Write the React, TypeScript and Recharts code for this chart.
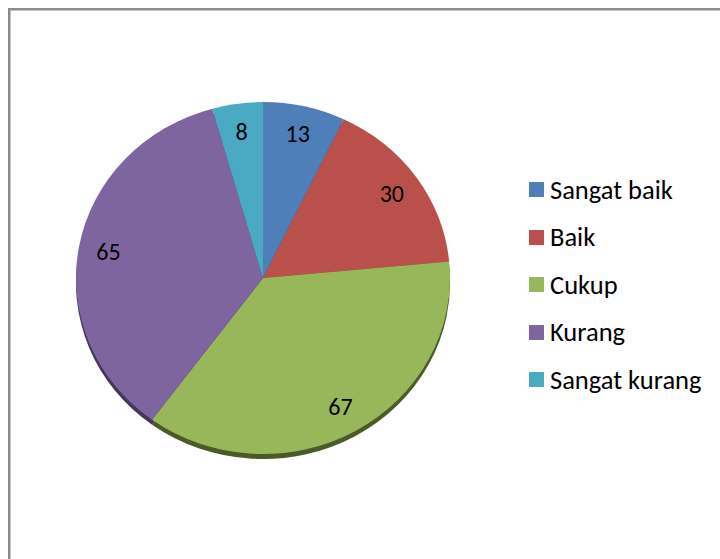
import React from "react";
import { PieChart, Pie, Cell, Legend } from "recharts";

const categories = ["Sangat baik", "Baik", "Cukup", "Kurang", "Sangat kurang"];
const values = [13, 30, 67, 65, 8];
const colors = ["#4F7FB9", "#BA504C", "#98B65A", "#7F65A0", "#4BAAC3"];
const shadowColors = ["#2c4a6e", "#6e2e2c", "#4a5a28", "#45365a", "#2a6270"];

const data = categories.map((name, i) => ({ name, value: values[i] }));

const SY = 0.941;
const CX = 263;
const CY = 278;
const R = 187;
const FONT = "Carlito, 'Open Sans', sans-serif";

const renderLabel = (props: any) => {
  const { cx, cy, midAngle, outerRadius, value } = props;
  const RAD = Math.PI / 180;
  const r = outerRadius * 0.84;
  const x = cx + r * Math.cos(-midAngle * RAD);
  const y = cy + r * Math.sin(-midAngle * RAD);
  return (
    <g transform={`translate(${x},${y}) scale(1,${1 / SY})`}>
      <text
        x={0}
        y={0}
        textAnchor="middle"
        dominantBaseline="central"
        fill="#000"
        fontSize={24}
        fontFamily={FONT}
      >
        {value}
      </text>
    </g>
  );
};

const renderLegend = () => (
  <div style={{ fontFamily: FONT, fontSize: 26.5, color: "#000" }}>
    {categories.map((c, i) => (
      <div
        key={c}
        style={{ display: "flex", alignItems: "center", height: 47.5 }}
      >
        <div
          style={{
            width: 15,
            height: 15,
            background: colors[i],
            marginRight: 6,
          }}
        />
        <span style={{ whiteSpace: "nowrap" }}>{c}</span>
      </div>
    ))}
  </div>
);

export default function App() {
  return (
    <div
      style={{
        position: "fixed",
        left: 0,
        top: 0,
        width: 720,
        height: 559,
        overflow: "hidden",
        background: "#fff",
      }}
    >
      <div
        style={{
          position: "absolute",
          left: 8,
          top: 8,
          width: 760,
          height: 600,
          borderLeft: "2px solid #8c8c8c",
          borderTop: "2px solid #8c8c8c",
        }}
      >
        <div
          style={{
            position: "absolute",
            left: 0,
            top: 0,
            width: 760,
            height: 600,
            borderLeft: "1px solid #c4c4c4",
            borderTop: "1px solid #c4c4c4",
          }}
        />
      </div>
      <div
        style={{
          position: "absolute",
          left: 0,
          top: 0,
          transform: `scaleY(${SY})`,
          transformOrigin: `${CX}px ${CY}px`,
        }}
      >
        <PieChart
          width={720}
          height={559}
          margin={{ top: 0, right: 0, bottom: 0, left: 0 }}
        >
          <Pie
            data={data}
            dataKey="value"
            nameKey="name"
            cx={CX}
            cy={CY + 5 / SY}
            outerRadius={R}
            startAngle={90}
            endAngle={-270}
            stroke="none"
            isAnimationActive={false}
            legendType="none"
          >
            {data.map((d, i) => (
              <Cell key={d.name} fill={shadowColors[i]} />
            ))}
          </Pie>
          <Pie
            data={data}
            dataKey="value"
            nameKey="name"
            cx={CX}
            cy={CY}
            outerRadius={R}
            startAngle={90}
            endAngle={-270}
            stroke="none"
            label={renderLabel}
            labelLine={false}
            isAnimationActive={false}
          >
            {data.map((d, i) => (
              <Cell key={d.name} fill={colors[i]} />
            ))}
          </Pie>
          <Legend
            content={renderLegend}
            wrapperStyle={{
              position: "absolute",
              left: 529,
              top: 159,
              width: 190,
              transform: `scaleY(${1 / SY})`,
              transformOrigin: "0 0",
            }}
          />
        </PieChart>
      </div>
    </div>
  );
}
